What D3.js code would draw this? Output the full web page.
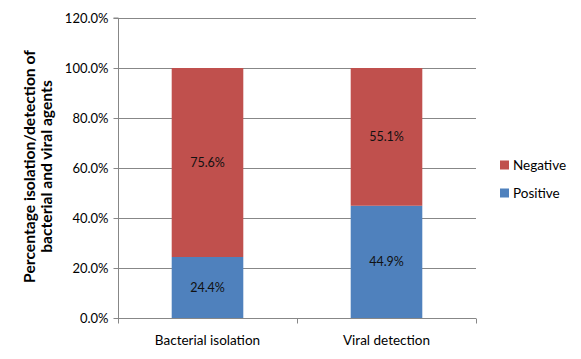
<!DOCTYPE html>
<html><head><meta charset="utf-8">
<script src="https://cdn.jsdelivr.net/npm/d3@7"></script>
<style>body{margin:0;background:#fff}svg{display:block}text{font-family:Lato,"Open Sans",sans-serif}</style>
</head><body>
<svg id="c" width="581" height="359"></svg>
<script>
const categories = ["Bacterial isolation", "Viral detection"];
const positive = [24.4, 44.9];
const negative = [75.6, 55.1];
const seriesNames = ["Positive", "Negative"];
const colors = ["#4F81BD", "#C0504D"];
const yTicks = [0, 20, 40, 60, 80, 100, 120];

const svg = d3.select("#c");
const m = {l:118, r:476, t:18, b:318};
const x = d3.scaleBand().domain(categories).range([m.l, m.r]).paddingInner(0.6).paddingOuter(0.3);
const xb = d3.scaleBand().domain(categories).range([m.l, m.r]);
const y = d3.scaleLinear().domain([0,120]).range([m.b, m.t]);

// gridlines
svg.append("g").selectAll("line").data(yTicks.slice(1)).join("line")
  .attr("x1", m.l).attr("x2", m.r).attr("y1", d=>y(d)+0.5).attr("y2", d=>y(d)+0.5)
  .attr("stroke", "#878787").attr("stroke-width", 1);

const rows = categories.map((c,i)=>({cat:c, Positive:positive[i], Negative:negative[i]}));
const stack = d3.stack().keys(seriesNames)(rows);
const g = svg.append("g");
stack.forEach((s,si)=>{
  g.selectAll(null).data(s).join("rect")
    .attr("x", d=>x(d.data.cat)).attr("width", x.bandwidth())
    .attr("y", d=>y(d[1])).attr("height", d=>y(d[0])-y(d[1]))
    .attr("fill", colors[si]);
  g.selectAll(null).data(s).join("text")
    .attr("x", d=>x(d.data.cat)+x.bandwidth()/2).attr("y", d=>y((d[0]+d[1])/2))
    .attr("dy", "0.35em").attr("text-anchor", "middle").attr("font-size", 12.5)
    .attr("fill", "#111").text(d=>(d[1]-d[0]).toFixed(1)+"%");
});

// y axis
const ya = svg.append("g").attr("transform", `translate(${m.l+0.5},0)`)
  .call(d3.axisLeft(y).tickValues(yTicks).tickSize(5).tickPadding(5).tickFormat(d=>d.toFixed(1)+"%"));
ya.select(".domain").attr("stroke", "#878787").attr("d", `M-5,${m.t}H0V${m.b}`);
ya.selectAll(".tick line").attr("stroke", "#878787");
ya.selectAll(".tick text").attr("font-size", 13).attr("fill", "#000").attr("font-family", "Lato,'Open Sans',sans-serif");

// x axis
const xa = svg.append("g").attr("transform", `translate(0,${m.b+0.5})`);
xa.append("line").attr("x1", m.l).attr("x2", m.r).attr("stroke", "#878787");
const xEdges = [m.l, xb(categories[1]), m.r];
xa.selectAll(null).data(xEdges).join("line")
  .attr("x1", d=>d+0.5).attr("x2", d=>d+0.5).attr("y1", 0).attr("y2", 5).attr("stroke", "#878787");
xa.selectAll(null).data(categories).join("text")
  .attr("x", d=>xb(d)+xb.bandwidth()/2).attr("y", 22).attr("dy","0.35em")
  .attr("text-anchor", "middle").attr("font-size", 13.5).attr("fill", "#000").text(d=>d);

// y title
const titleLines = ["Percentage isolation/detection of", "bacterial and viral agents"];
const yt = svg.append("g").attr("transform", "translate(0,166.5) rotate(-90)");
const t1 = yt.append("text").attr("x", 0).attr("y", 35).attr("text-anchor", "middle")
  .attr("font-size", 14).attr("font-weight", "bold").attr("fill", "#000").text(titleLines[0]);
const fs = 14 * 233 / t1.node().getComputedTextLength();
t1.attr("font-size", fs);
yt.append("text").attr("x", 0).attr("y", 52).attr("text-anchor", "middle")
  .attr("font-size", fs).attr("font-weight", "bold").attr("fill", "#000").text(titleLines[1]);

// legend
const leg = [{n:"Negative", c:colors[1], y:165}, {n:"Positive", c:colors[0], y:193}];
const lg = svg.append("g");
lg.selectAll("rect").data(leg).join("rect")
  .attr("x", 500).attr("y", d=>d.y-4.5).attr("width", 9).attr("height", 9).attr("fill", d=>d.c);
lg.selectAll("text").data(leg).join("text")
  .attr("x", 513).attr("y", d=>d.y).attr("dy", "0.35em").attr("font-size", 13.5).attr("fill", "#000").text(d=>d.n);
</script>
</body></html>
